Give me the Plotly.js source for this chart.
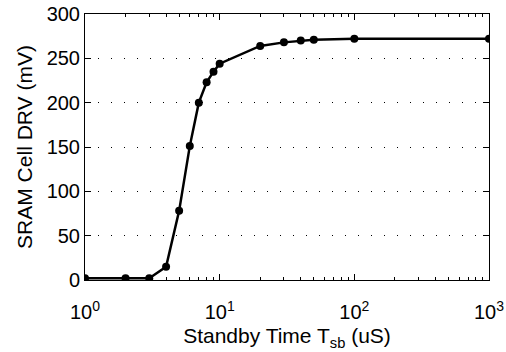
<!DOCTYPE html>
<html>
<head>
<meta charset="utf-8">
<script src="https://cdn.plot.ly/plotly-3.0.1.min.js"></script>
<style>html,body{margin:0;padding:0;background:#fff;}#chart{width:506px;height:352px;}</style>
</head>
<body>
<div id="chart"></div>
<script>
// Data
var standbyTime = [1, 2, 3, 4, 5, 6, 7, 8, 9, 10, 20, 30, 40, 50, 100, 1000];
var cellDRV = [2, 2, 2, 15, 78, 151, 200, 223, 235, 244, 264, 268, 270, 271, 272, 272];
var xTickVals = [1, 10, 100, 1000];
var xTickText = ['10<sup>0</sup>', '10<sup>1</sup>', '10<sup>2</sup>', '10<sup>3</sup>'];
var xMinorVals = [2,3,4,5,6,7,8,9,20,30,40,50,60,70,80,90,200,300,400,500,600,700,800,900];
var yTickVals = [0, 50, 100, 150, 200, 250, 300];

var font = {family: 'Liberation Sans, Arial, Helvetica, sans-serif', color: '#000'};

var trace = {
  x: standbyTime,
  y: cellDRV,
  type: 'scatter',
  mode: 'lines+markers',
  line: {color: '#000', width: 2.5},
  marker: {color: '#000', size: 8},
  hoverinfo: 'none'
};

var layout = {
  width: 506,
  height: 352,
  margin: {l: 85, r: 17, t: 14, b: 72},
  paper_bgcolor: '#fff',
  plot_bgcolor: '#fff',
  showlegend: false,
  font: Object.assign({size: 20}, font),
  xaxis: {
    type: 'log',
    range: [0, 3],
    tickmode: 'array',
    tickvals: xTickVals,
    ticktext: xTickText,
    ticks: 'inside',
    ticklen: 6,
    tickwidth: 1,
    tickcolor: '#000',
    ticklabelstandoff: 14,
    showline: true,
    linecolor: '#000',
    linewidth: 1,
    mirror: 'ticks',
    showgrid: false,
    zeroline: false,
    tickfont: Object.assign({size: 20}, font),
    minor: {tickmode: 'array', tickvals: xMinorVals, ticks: 'inside', ticklen: 3, tickcolor: '#000', tickwidth: 1, showgrid: false},
    title: {text: 'Standby Time T<sub>sb</sub> (uS)', font: Object.assign({size: 21}, font), standoff: 6}
  },
  yaxis: {
    range: [0, 300],
    tickmode: 'array',
    tickvals: yTickVals,
    ticks: 'inside',
    ticklen: 6,
    tickwidth: 1,
    tickcolor: '#000',
    showline: true,
    linecolor: '#000',
    linewidth: 1,
    mirror: 'ticks',
    showgrid: true,
    gridcolor: '#000',
    gridwidth: 1,
    griddash: '1px,12px',
    zeroline: false,
    tickfont: Object.assign({size: 20}, font),
    title: {text: 'SRAM Cell DRV (mV)', font: Object.assign({size: 21}, font), standoff: 8}
  }
};

Plotly.newPlot('chart', [trace], layout, {staticPlot: true, displayModeBar: false});
</script>
</body>
</html>
